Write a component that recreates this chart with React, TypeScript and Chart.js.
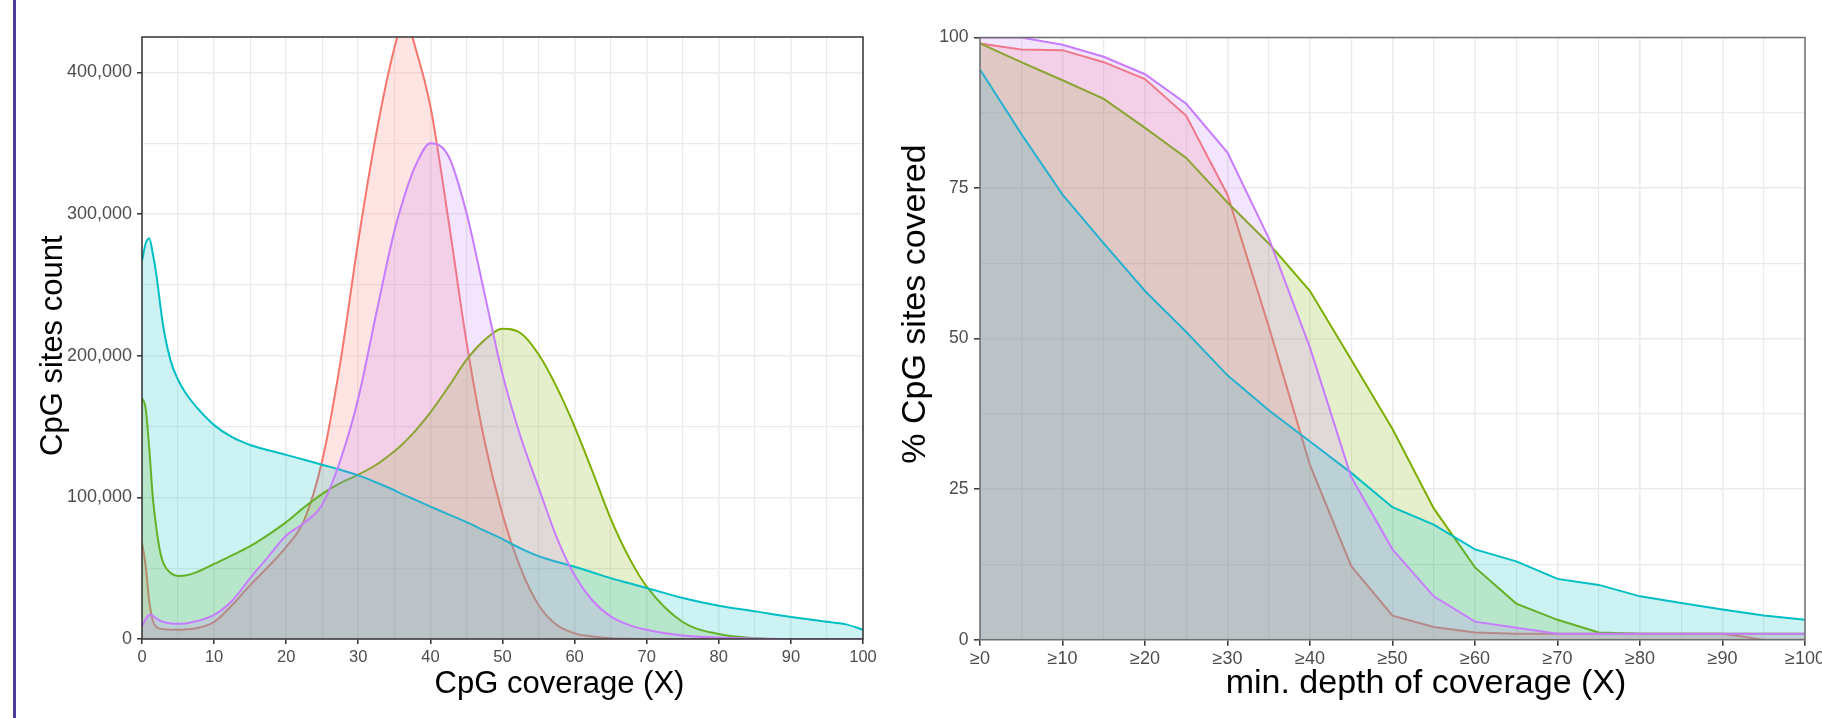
import React, { useEffect, useRef } from "react";
import { Chart, registerables } from "chart.js";

Chart.register(...registerables);

// ---------- Left panel: coverage distribution (counts, smoothed density) ----------
const coverageX = [0, 0.5, 1, 1.5, 2, 2.5, 3, 4, 5, 6, 7.5, 10, 12.5, 15, 17.5, 20, 22.5, 25, 27.5, 30, 32.5, 35, 36, 37, 38, 40, 42.5, 45, 47.5, 50, 52.5, 55, 57.5, 60, 62.5, 65, 67.5, 70, 75, 80, 85, 90, 95, 97.5, 100];
// values in thousands of CpG sites
const countRedK = [68, 52, 27, 13, 8.5, 7.2, 6.8, 6.5, 6.5, 6.8, 7.6, 12, 24, 38, 51, 65, 84, 126, 195, 281, 357, 417, 432, 431, 416, 376, 296, 210, 140, 88, 50, 24, 10, 4, 1.8, 0.6, 0.2, 0, 0, 0, 0, 0, 0, 0, 0];
const countGreenK = [170, 163, 135, 100, 78, 62, 53, 46.5, 44.5, 44.8, 47, 53, 59, 65.5, 73.5, 82.5, 93, 102.5, 110, 116, 123, 132.5, 137, 142, 147.5, 160, 178, 197, 211, 219, 216, 201, 178, 150, 118, 85, 58, 37, 12, 3.5, 0.6, 0, 0, 0, 0];
const countCyanK = [267, 279, 283, 272, 257, 237, 219, 196, 183, 174, 164, 151, 142.5, 137, 133.3, 130, 126.5, 123, 119.5, 115.5, 110.5, 105, 102.5, 100.3, 98, 93.5, 88, 82.5, 76.5, 70.5, 64, 58.5, 54.5, 51, 47, 43, 39.5, 36, 29, 23.5, 19.5, 15.5, 12.2, 10.5, 6.5];
const countPurpleK = [9, 14, 17, 16.5, 14.5, 13, 12, 11, 10.8, 11, 12.5, 17, 27, 43, 58, 73, 82, 95, 126, 170, 230, 288, 306, 322, 335, 350, 341, 301, 244, 187, 143, 107, 72, 45, 27, 16, 10, 6.5, 2.5, 1, 0.3, 0, 0, 0, 0];
const coverageGridX = [0, 5, 10, 15, 20, 25, 30, 35, 40, 45, 50, 55, 60, 65, 70, 75, 80, 85, 90, 95, 100];
const countGridY = [0, 50000, 100000, 150000, 200000, 250000, 300000, 350000, 400000];

// ---------- Right panel: cumulative % covered ----------
const depthX = [0, 5, 10, 15, 20, 25, 30, 35, 40, 45, 50, 55, 60, 65, 70, 75, 80, 85, 90, 95, 100];
const pctRed = [99, 98, 97.9, 95.9, 93.1, 87, 73.9, 52, 29, 12.2, 4, 2.1, 1.2, 1, 1, 1, 1, 1, 1, 0, 0];
const pctGreen = [99, 95.9, 92.9, 89.8, 85, 80, 72.6, 65.8, 57.9, 46.5, 35, 21.8, 12, 6, 3.3, 1.2, 1, 1, 1, 1, 1];
const pctCyan = [94.7, 84, 73.9, 65.8, 57.9, 51.1, 43.9, 38.1, 32.9, 27.7, 22, 19.1, 15, 13, 10.1, 9.1, 7.2, 6.1, 5, 4, 3.3];
const pctPurple = [100, 100, 98.8, 96.8, 93.9, 89, 80.9, 66.7, 48.5, 27, 15, 7.2, 3, 2, 1, 1, 1, 1, 1, 1, 1];
const depthGridX = [0, 5, 10, 15, 20, 25, 30, 35, 40, 45, 50, 55, 60, 65, 70, 75, 80, 85, 90, 95, 100];
const pctGridY = [0, 12.5, 25, 37.5, 50, 62.5, 75, 87.5, 100];

const RED = "#F8766D";
const GREEN = "#7CAE00";
const CYAN = "#00BFC4";
const PURPLE = "#C77CFF";

const FONT = '"Liberation Sans", Arial, Helvetica, sans-serif';
const TICK_COLOR = "#4D4D4D";

function rgba(hex: string, a: number) {
  const n = parseInt(hex.slice(1), 16);
  return `rgba(${(n >> 16) & 255},${(n >> 8) & 255},${n & 255},${a})`;
}

function commas(v: number) {
  return String(Math.round(v)).replace(/\B(?=(\d{3})+(?!\d))/g, ",");
}

function makeDataset(label: string, xs: number[], ys: number[], color: string, order: number, smooth: boolean) {
  return {
    label,
    data: xs.map((x, i) => ({ x, y: ys[i] })),
    borderColor: color,
    backgroundColor: rgba(color, 0.2),
    fill: "origin",
    borderWidth: 2,
    pointRadius: 0,
    pointHoverRadius: 0,
    order,
    tension: 0,
    cubicInterpolationMode: smooth ? "monotone" : "default",
  };
}

const framePlugin = {
  id: "panelFrame",
  afterDatasetsDraw(chart: any, _args: any, opts: any) {
    const { ctx, chartArea: a } = chart;
    ctx.save();
    ctx.strokeStyle = opts.color;
    ctx.lineWidth = opts.width;
    ctx.strokeRect(a.left, a.top, a.right - a.left, a.bottom - a.top);
    ctx.restore();
  },
};

const titlePlugin = {
  id: "axisTitles",
  afterDraw(chart: any, _args: any, opts: any) {
    const ctx = chart.ctx;
    ctx.save();
    ctx.fillStyle = "#000000";
    ctx.font = `${opts.size}px ${FONT}`;
    ctx.textAlign = "center";
    ctx.textBaseline = "alphabetic";
    ctx.fillText(opts.xText, opts.xCenter, opts.xBaseline);
    ctx.translate(opts.yBaseline, opts.yCenter);
    ctx.rotate(-Math.PI / 2);
    ctx.fillText(opts.yText, 0, 0);
    ctx.restore();
  },
};

function scaleX(gridVals: number[], isMajor: (v: number) => boolean, label: (v: number) => string, height: number, fontSize: number, pad: number, tickLen: number) {
  return {
    type: "linear",
    min: 0,
    max: 100,
    afterBuildTicks: (axis: any) => {
      axis.ticks = gridVals.map((v) => ({ value: v }));
    },
    afterFit: (s: any) => {
      s.height = height;
      s.paddingLeft = 0;
      s.paddingRight = 0;
    },
    border: { display: false },
    grid: {
      color: "#EBEBEB",
      lineWidth: (c: any) => (c.tick && isMajor(c.tick.value) ? 1.6 : 1.2),
      drawTicks: true,
      tickLength: tickLen,
      tickWidth: 1.5,
      tickColor: (c: any) => (c.tick && isMajor(c.tick.value) ? "#333333" : "rgba(0,0,0,0)"),
    },
    ticks: {
      autoSkip: false,
      maxRotation: 0,
      minRotation: 0,
      padding: pad,
      color: TICK_COLOR,
      font: { family: FONT, size: fontSize },
      callback: (v: any) => (isMajor(Number(v)) ? label(Number(v)) : ""),
    },
  };
}

function scaleY(gridVals: number[], max: number, isMajor: (v: number) => boolean, label: (v: number) => string, width: number, fontSize: number, pad: number, tickLen: number) {
  return {
    type: "linear",
    min: 0,
    max,
    afterBuildTicks: (axis: any) => {
      axis.ticks = gridVals.map((v) => ({ value: v }));
    },
    afterFit: (s: any) => {
      s.width = width;
      s.paddingTop = 0;
      s.paddingBottom = 0;
    },
    border: { display: false },
    grid: {
      color: "#EBEBEB",
      lineWidth: (c: any) => (c.tick && isMajor(c.tick.value) ? 1.6 : 1.2),
      drawTicks: true,
      tickLength: tickLen,
      tickWidth: 1.5,
      tickColor: (c: any) => (c.tick && isMajor(c.tick.value) ? "#333333" : "rgba(0,0,0,0)"),
    },
    ticks: {
      autoSkip: false,
      padding: pad,
      color: TICK_COLOR,
      font: { family: FONT, size: fontSize },
      callback: (v: any) => (isMajor(Number(v)) ? label(Number(v)) : ""),
    },
  };
}

function CoverageChart() {
  const ref = useRef<HTMLCanvasElement | null>(null);
  useEffect(() => {
    if (!ref.current) return;
    const k = (arr: number[]) => arr.map((v) => v * 1000);
    const chart = new Chart(ref.current, {
      type: "line",
      data: {
        datasets: [
          makeDataset("red", coverageX, k(countRedK), RED, 3, true),
          makeDataset("green", coverageX, k(countGreenK), GREEN, 2, true),
          makeDataset("cyan", coverageX, k(countCyanK), CYAN, 1, true),
          makeDataset("purple", coverageX, k(countPurpleK), PURPLE, 0, true),
        ] as any,
      },
      options: {
        responsive: false,
        animation: false,
        devicePixelRatio: 1,
        events: [],
        layout: { padding: { left: 0, top: 37, right: 37, bottom: 0 } },
        scales: {
          x: scaleX(coverageGridX, (v) => v % 10 === 0, (v) => String(v), 79, 16.5, 3.5, 5) as any,
          y: scaleY(countGridY, 425000, (v) => v % 100000 === 0, (v) => commas(v), 142, 18, 5, 5) as any,
        },
        plugins: {
          legend: { display: false },
          tooltip: { enabled: false },
          panelFrame: { color: "#333333", width: 1.5 },
          axisTitles: {
            size: 31,
            xText: "CpG coverage (X)",
            xCenter: 559.5,
            xBaseline: 693,
            yText: "CpG sites count",
            yCenter: 345.7,
            yBaseline: 61.5,
          },
        } as any,
      },
      plugins: [framePlugin, titlePlugin],
    });
    return () => chart.destroy();
  }, []);
  return (
    <canvas
      ref={ref}
      width={900}
      height={718}
      style={{ position: "absolute", left: 0, top: 0, width: 900, height: 718, display: "block" }}
    />
  );
}

function DepthChart() {
  const ref = useRef<HTMLCanvasElement | null>(null);
  useEffect(() => {
    if (!ref.current) return;
    const chart = new Chart(ref.current, {
      type: "line",
      data: {
        datasets: [
          makeDataset("red", depthX, pctRed, RED, 3, false),
          makeDataset("green", depthX, pctGreen, GREEN, 2, false),
          makeDataset("cyan", depthX, pctCyan, CYAN, 1, false),
          makeDataset("purple", depthX, pctPurple, PURPLE, 0, false),
        ] as any,
      },
      options: {
        responsive: false,
        animation: false,
        devicePixelRatio: 1,
        events: [],
        layout: { padding: { left: 0, top: 37.5, right: 17, bottom: 0 } },
        scales: {
          x: scaleX(depthGridX, (v) => v % 10 === 0, (v) => "\u2265" + v, 78.3, 18, 3, 6) as any,
          y: scaleY(pctGridY, 100, (v) => v % 25 === 0, (v) => String(v), 80, 17.5, 5.5, 6) as any,
        },
        plugins: {
          legend: { display: false },
          tooltip: { enabled: false },
          panelFrame: { color: "#6E6E6E", width: 1.5 },
          axisTitles: {
            size: 34,
            xText: "min. depth of coverage (X)",
            xCenter: 526,
            xBaseline: 693.3,
            yText: "% CpG sites covered",
            yCenter: 304,
            yBaseline: 24.8,
          },
        } as any,
      },
      plugins: [framePlugin, titlePlugin],
    });
    return () => chart.destroy();
  }, []);
  return (
    <canvas
      ref={ref}
      width={922}
      height={718}
      style={{ position: "absolute", left: 900, top: 0, width: 922, height: 718, display: "block" }}
    />
  );
}

export default function App() {
  return (
    <div
      style={{
        position: "absolute",
        left: 0,
        top: 0,
        width: 1822,
        height: 718,
        overflow: "hidden",
        background: "#ffffff",
      }}
    >
      <div style={{ position: "absolute", left: 13, top: 0, width: 3, height: 718, background: "#4A3C9A" }} />
      <CoverageChart />
      <DepthChart />
    </div>
  );
}
